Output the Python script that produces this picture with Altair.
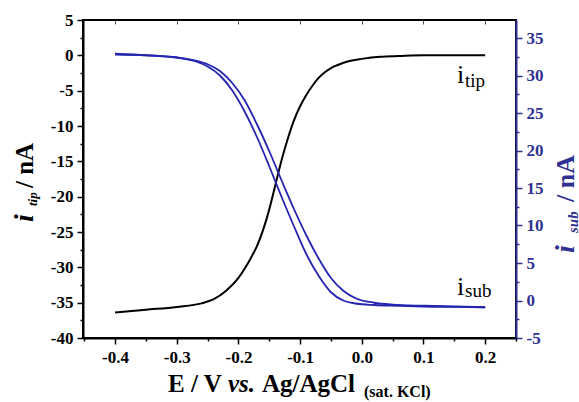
import altair as alt
import pandas as pd

# ---------------- data ----------------
E_tip = [-0.40, -0.35, -0.30, -0.26, -0.24, -0.22, -0.20, -0.19, -0.18, -0.17,
         -0.16, -0.15, -0.14, -0.13, -0.12, -0.11, -0.10, -0.09, -0.08, -0.07,
         -0.06, -0.05, -0.04, -0.02, 0.00, 0.03, 0.06, 0.10, 0.15, 0.20]
I_tip = [-36.4, -36.0, -35.6, -35.1, -34.5, -33.3, -31.5, -30.2, -28.7, -27.0,
         -24.7, -21.8, -18.3, -14.8, -11.8, -9.2, -7.2, -5.6, -4.3, -3.2,
         -2.4, -1.8, -1.4, -0.8, -0.5, -0.2, -0.1, 0.0, 0.0, 0.0]

E_sub_a = [-0.40, -0.35, -0.30, -0.27, -0.25, -0.23, -0.21, -0.19, -0.17, -0.15,
           -0.13, -0.11, -0.09, -0.07, -0.05, -0.03, -0.01, 0.02, 0.06, 0.10,
           0.15, 0.20]
I_sub_a = [32.8, 32.7, 32.4, 31.9, 31.2, 30.0, 28.0, 25.2, 21.8, 17.9,
           13.8, 9.9, 6.2, 3.3, 1.1, 0.0, -0.4, -0.6, -0.7, -0.8,
           -0.85, -0.9]

E_sub_b = [-0.40, -0.35, -0.30, -0.27, -0.25, -0.23, -0.21, -0.19, -0.17, -0.15,
           -0.13, -0.11, -0.09, -0.07, -0.05, -0.03, -0.01, 0.02, 0.05, 0.10,
           0.15, 0.20]
I_sub_b = [32.9, 32.7, 32.4, 32.0, 31.5, 30.6, 29.0, 26.7, 23.5, 19.9,
           16.0, 12.2, 8.7, 5.6, 3.0, 1.3, 0.3, -0.3, -0.55, -0.7,
           -0.8, -0.9]

x_tick_values = [-0.45, -0.4, -0.35, -0.3, -0.25, -0.2, -0.15, -0.1, -0.05,
                 0.0, 0.05, 0.1, 0.15, 0.2, 0.25]
x_major_values = [-0.4, -0.3, -0.2, -0.1, 0.0, 0.1, 0.2]
y_tip_ticks = [-40, -37.5, -35, -32.5, -30, -27.5, -25, -22.5, -20, -17.5, -15,
               -12.5, -10, -7.5, -5, -2.5, 0, 2.5, 5]
y_sub_ticks = [-5, -2.5, 0, 2.5, 5, 7.5, 10, 12.5, 15, 17.5, 20, 22.5, 25,
               27.5, 30, 32.5, 35]

x_title_parts = ["E / V", "vs.", "Ag/AgCl", "(sat. KCl)"]
left_title_parts = ["i", "tip", "/ nA"]
right_title_parts = ["i", "sub", "/ nA"]
curve_labels = ["i", "tip", "i", "sub"]

# ---------------- styling ----------------
FONT = "Liberation Serif"
NAVY = "#2e3192"
BLUE = "#2424b0"
W, H = 433, 318

tip_df = pd.DataFrame({"E": E_tip, "i": I_tip})
sub_df = pd.concat([
    pd.DataFrame({"E": E_sub_a, "i": I_sub_a, "scan": "a"}),
    pd.DataFrame({"E": E_sub_b, "i": I_sub_b, "scan": "b"}),
], ignore_index=True)

x_scale = alt.Scale(domain=[-0.452, 0.25], nice=False, zero=False)
MINUS = "\u2212"
LBL = dict(labelFont=FONT, labelFontSize=17, labelFontWeight="bold")

x_axis = alt.Axis(
    orient="bottom", values=x_tick_values, title=None, grid=False,
    labelExpr=("abs(datum.value*10 - round(datum.value*10)) < 0.001 ? "
               "replace(format(datum.value, '.1f'), '" + MINUS + "', '-') : ''"),
    tickSize={"condition": {"test": "abs(datum.value*10 - round(datum.value*10)) < 0.001",
                            "value": 6}, "value": 3},
    tickColor="black", tickWidth=1.5, domainColor="black", domainWidth=2,
    labelColor="black", labelPadding=5, labelFlush=False, **LBL,
)
x_axis_top = alt.Axis(
    orient="top", values=x_major_values, title=None, grid=False, labels=False,
    domain=False, tickSize=4, offset=-4, tickColor="#555555", tickWidth=1,
)

left_axis = alt.Axis(
    orient="left", values=y_tip_ticks, title=None, grid=False,
    labelExpr="datum.value % 5 == 0 ? '' + datum.value : ''",
    tickSize={"condition": {"test": "datum.value % 5 == 0", "value": 6}, "value": 3},
    tickColor="black", tickWidth=1.5, domainColor="black", domainWidth=2,
    labelColor="black", labelPadding=4, labelFlush=False, **LBL,
)
right_axis = alt.Axis(
    orient="right", values=y_sub_ticks, title=None, grid=False,
    labelExpr="datum.value % 5 == 0 ? '' + datum.value : ''",
    tickSize={"condition": {"test": "datum.value % 5 == 0", "value": 6}, "value": 3},
    tickColor=NAVY, tickWidth=1.5, domainColor=NAVY, domainWidth=2,
    labelColor=NAVY, labelPadding=4, labelFlush=False, **LBL,
)

black = alt.Chart(tip_df).mark_line(color="black", strokeWidth=2, interpolate="monotone").encode(
    x=alt.X("E:Q", scale=x_scale, axis=x_axis),
    y=alt.Y("i:Q", scale=alt.Scale(domain=[-40, 5], nice=False, zero=False), axis=left_axis),
)
blue = alt.Chart(sub_df).mark_line(color=BLUE, strokeWidth=1.8, interpolate="monotone").encode(
    x=alt.X("E:Q", scale=x_scale, axis=x_axis_top),
    y=alt.Y("i:Q", scale=alt.Scale(domain=[-5, 37.4], nice=False, zero=False), axis=right_axis),
    detail="scan:N",
)

one = pd.DataFrame({"k": [0]})


def txt(s, x, y, size, weight="bold", style="normal", angle=0, color="black"):
    return alt.Chart(one).mark_text(
        text=s, font=FONT, fontSize=size, fontWeight=weight, fontStyle=style,
        angle=angle, align="left", baseline="alphabetic", color=color,
    ).encode(x=alt.value(x), y=alt.value(y))


texts = [
    # x-axis title
    txt(x_title_parts[0], 85, 372, 25),
    txt(x_title_parts[1], 145, 372, 25, style="italic"),
    txt(x_title_parts[2], 179, 372, 25),
    txt(x_title_parts[3], 281, 377, 16),
    # left title (rotated)
    txt(left_title_parts[0], -50, 202, 28, style="italic", angle=270),
    txt(left_title_parts[1], -46, 186, 13, style="italic", angle=270),
    txt(left_title_parts[2], -50, 168, 25, angle=270),
    # right title (rotated)
    txt(right_title_parts[0], 491, 233, 28, style="italic", angle=270, color=NAVY),
    txt(right_title_parts[1], 495, 213, 15, style="italic", angle=270, color=NAVY),
    txt(right_title_parts[2], 491, 182, 26, angle=270, color=NAVY),
    # curve labels
    txt(curve_labels[0], 374, 63, 26, weight="normal"),
    txt(curve_labels[1], 382, 67, 19, weight="normal"),
    txt(curve_labels[2], 374, 275, 26, weight="normal"),
    txt(curve_labels[3], 382, 277, 19, weight="normal"),
]

chart = alt.layer(black, blue, *texts).resolve_scale(
    y="independent"
).resolve_axis(
    x="independent"
).properties(
    width=W, height=H,
    padding={"left": 83, "top": 20, "right": 63, "bottom": 64},
    autosize=alt.AutoSizeParams(type="none"),
).configure_axis(
    labelFont=FONT, labelFontSize=17, labelFontWeight="bold",
).configure_view(
    stroke="black", strokeWidth=2,
)

chart.save("out.html", embed_options={"renderer": "svg", "actions": False})
